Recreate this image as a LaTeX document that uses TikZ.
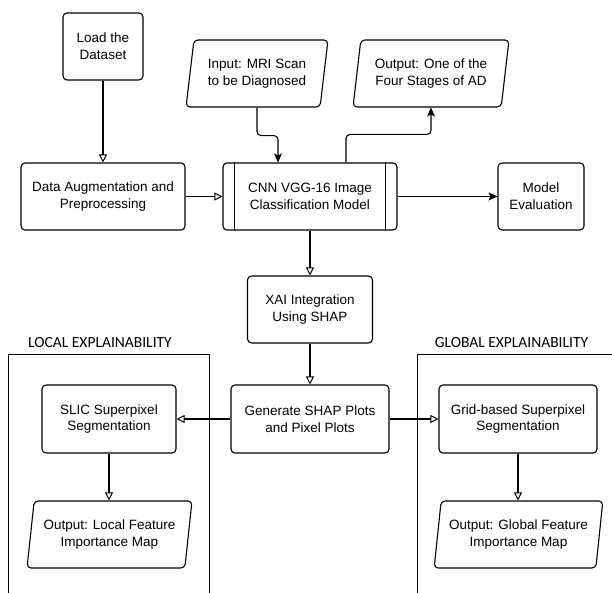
\documentclass[tikz,border=0pt]{standalone}
\usepackage{fontspec}
\setmainfont{Liberation Sans}
\newfontfamily\labelfont{Carlito}
\usetikzlibrary{arrows.meta,shapes.geometric,calc}
\begin{document}
\begin{tikzpicture}[x=1pt,y=-1pt,
  line width=1.1pt,
  every node/.style={font=\fontsize{13.5}{16.8}\selectfont, align=center, inner sep=0pt},
  box/.style={draw, rounded corners=4pt, minimum height=67pt},
  para/.style={draw, rounded corners=4pt, trapezium, trapezium left angle=78, trapezium right angle=102, trapezium stretches=true, minimum height=67pt},
  openarrow/.style={-{Triangle[open,length=8pt,width=8pt,line width=1pt]}},
  fillarrow/.style={-{Stealth[length=9pt,width=8pt,inset=2pt]}},
  grouplabel/.style={font=\labelfont\fontsize{15.5}{18}\selectfont},
  groupframe/.style={line width=1pt}
]
\useasboundingbox (0,0) rectangle (612,593);

% nodes
\node[box, minimum width=80pt] (load) at (103,46.5) {Load the\\Dataset};
\node[para, minimum width=142pt] (in) at (257,73.5) {Input: MRI Scan\\to be Diagnosed};
\node[para, minimum width=156pt] (out) at (431,73.5) {Output: One of the\\Four Stages of AD};
\node[box, minimum width=164pt] (aug) at (103,196.5) {Data Augmentation and\\Preprocessing};
\node[box, minimum width=174pt] (cnn) at (310,196.5) {CNN VGG-16 Image\\Classification Model};
\draw ([xshift=12pt]cnn.north west) -- ([xshift=12pt]cnn.south west);
\draw ([xshift=-12pt]cnn.north east) -- ([xshift=-12pt]cnn.south east);
\node[box, minimum width=86pt] (eval) at (541,196.5) {Model\\Evaluation};
\node[box, minimum width=125pt] (xai) at (310,309.5) {XAI Integration\\Using SHAP};
\node[box, minimum width=158pt, minimum height=68pt] (gen) at (310,419) {Generate SHAP Plots\\and Pixel Plots};
\node[box, minimum width=134pt, minimum height=68pt] (slic) at (109,419) {SLIC Superpixel\\Segmentation};
\node[box, minimum width=158pt, minimum height=68pt] (grid) at (518,419) {Grid-based Superpixel\\Segmentation};
\node[para, minimum width=165pt] (lout) at (109.5,534.5) {Output: Local Feature\\Importance Map};
\node[para, minimum width=169pt] (gout) at (518.5,534.5) {Output: Global Feature\\Importance Map};

% group frames
\node[grouplabel] (llab) at (100,343) {LOCAL EXPLAINABILITY};
\node[grouplabel] (glab) at (511.5,343) {GLOBAL EXPLAINABILITY};
\draw[groupframe] (8,593) -- (8,354) -- (209,354) -- (209,593);
\draw[groupframe] (612,354) -- (417,354) -- (417,593);

% connectors
\draw[openarrow] (load) -- (aug);
\draw[openarrow] (aug) -- (cnn);
\draw[fillarrow, rounded corners=4pt] (in.south) -- ++(0,28) -| ([xshift=-32pt]cnn.north);
\draw[fillarrow, rounded corners=4pt] ([xshift=36pt]cnn.north) -- ++(0,-28) -| (out.south);
\draw[fillarrow] (cnn) -- (eval);
\draw[openarrow] (cnn) -- (xai);
\draw[openarrow] (xai) -- (gen);
\draw[openarrow] (gen) -- (slic);
\draw[openarrow] (gen) -- (grid);
\draw[openarrow] (slic) -- (slic |- lout.north);
\draw[openarrow] (grid) -- (grid |- gout.north);
\end{tikzpicture}
\end{document}
